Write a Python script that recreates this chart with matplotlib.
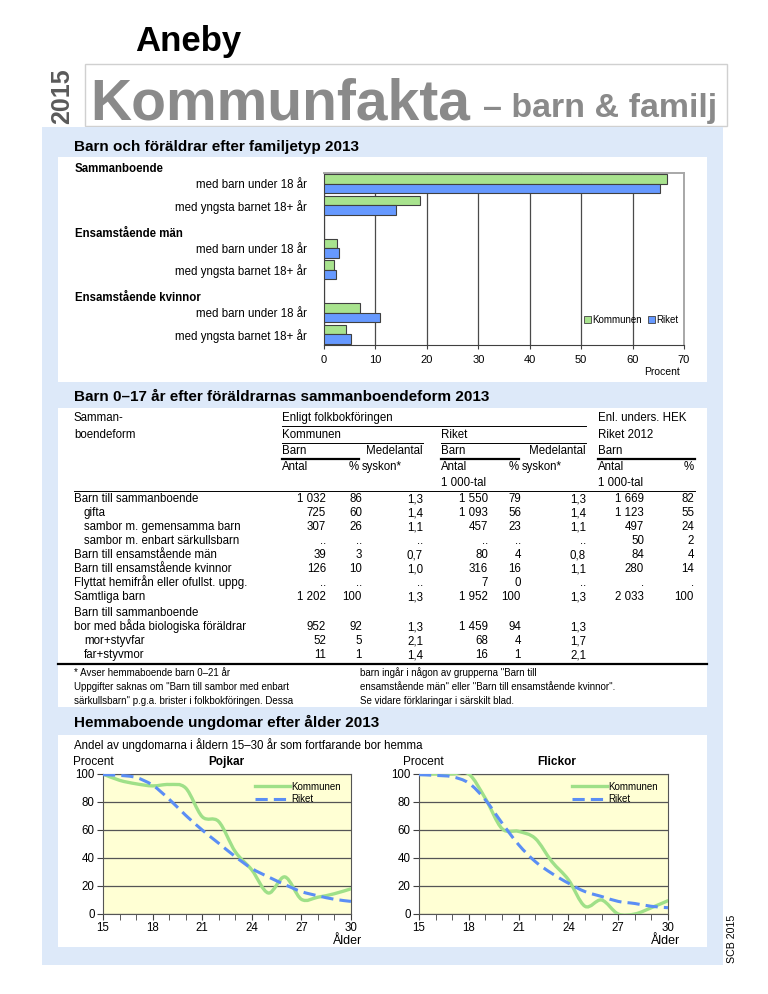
import matplotlib
matplotlib.use("Agg")
import matplotlib.pyplot as plt
from matplotlib.patches import Rectangle, Patch, PathPatch
from matplotlib.path import Path
from matplotlib.lines import Line2D

plt.rcParams['font.family'] = ['Liberation Sans', 'DejaVu Sans']

W, H = 768, 994

# ---- bar chart data ----
bar_groups = ["Sammanboende", "Ensamstående män", "Ensamstående kvinnor"]
bar_labels = ["med barn under 18 år", "med yngsta barnet 18+ år"] * 3
bar_kommunen = [66.7, 18.7, 2.5, 2.0, 7.0, 4.2]
bar_riket = [65.4, 14.0, 3.0, 2.3, 10.9, 5.2]

# ---- table data ----
row_labels = ["Barn till sammanboende", "gifta", "sambor m. gemensamma barn",
              "sambor m. enbart särkullsbarn", "Barn till ensamstående män",
              "Barn till ensamstående kvinnor", "Flyttat hemifrån eller ofullst. uppg.",
              "Samtliga barn"]
row_indent = [0, 1, 1, 1, 0, 0, 0, 0]
kom_antal = ["1 032", "725", "307", "..", "39", "126", "..", "1 202"]
kom_pct = ["86", "60", "26", "..", "3", "10", "..", "100"]
kom_sysk = ["1,3", "1,4", "1,1", "..", "0,7", "1,0", "..", "1,3"]
rik_antal = ["1 550", "1 093", "457", "..", "80", "316", "7", "1 952"]
rik_pct = ["79", "56", "23", "..", "4", "16", "0", "100"]
rik_sysk = ["1,3", "1,4", "1,1", "..", "0,8", "1,1", "..", "1,3"]
hek_antal = ["1 669", "1 123", "497", "50", "84", "280", ".", "2 033"]
hek_pct = ["82", "55", "24", "2", "4", "14", ".", "100"]

bio_labels = ["Barn till sammanboende", "bor med båda biologiska föräldrar",
              "mor+styvfar", "far+styvmor"]
bio_indent = [0, 0, 1, 1]
bio_kom_antal = ["", "952", "52", "11"]
bio_kom_pct = ["", "92", "5", "1"]
bio_kom_sysk = ["", "1,3", "2,1", "1,4"]
bio_rik_antal = ["", "1 459", "68", "16"]
bio_rik_pct = ["", "94", "4", "1"]
bio_rik_sysk = ["", "1,3", "1,7", "2,1"]

notes_left = ["* Avser hemmaboende barn 0–21 år",
              'Uppgifter saknas om "Barn till sambor med enbart',
              'särkullsbarn" p.g.a. brister i folkbokföringen. Dessa']
notes_right = ['barn ingår i någon av grupperna "Barn till',
               'ensamstående män" eller "Barn till ensamstående kvinnor".',
               'Se vidare förklaringar i särskilt blad.']

# ---- line chart data ----
ages = list(range(15, 31))
pojkar_kommunen = [100, 95.5, 93, 91.5, 92.5, 90, 69.5, 66, 44.5, 31.5, 15, 26.5, 10.5, 12, 14.5, 18]
pojkar_riket = [99.5, 99, 97.5, 92, 82, 70.5, 60, 50.5, 41, 32.5, 26.5, 21, 16, 13, 10.5, 9]
flickor_kommunen = [100, 100, 100, 100, 82.5, 61, 59, 54, 37.5, 24.5, 5.5, 10, 0, 0, 4.5, 9.5]
flickor_riket = [99.5, 99, 98, 93.5, 81.5, 65, 49.5, 37.5, 29, 22, 16, 12.5, 9, 7.5, 5.5, 4.5]

GREEN = '#a8e38e'
BLUE = '#6699ff'
LINE_GREEN = '#9fe088'
LINE_BLUE = '#5b8ef5'
PANEL = '#dde9f9'

fig = plt.figure(figsize=(W / 100, H / 100), dpi=100)


def px_axes(x0, y0, x1, y1):
    return fig.add_axes([x0 / W, 1 - y1 / H, (x1 - x0) / W, (y1 - y0) / H])


bg = fig.add_axes([0, 0, 1, 1])
bg.set_xlim(0, W)
bg.set_ylim(H, 0)
bg.axis('off')


def cell(x, y, s, size=8.3, ha='left', **kw):
    # table text placed by row centre, drawn on the baseline
    bg.text(x, y + 3, s, fontsize=size, ha=ha, va='baseline', **kw)


# page header
bg.text(135, 42, "Aneby", fontsize=25, fontweight='bold', va='center', ha='left')
bg.add_patch(Rectangle((85, 64), 642, 62, facecolor='white', edgecolor='#d0d0d0', lw=1))
bg.text(62, 96, "2015", fontsize=18, fontweight='bold', color='#5a5a5a',
        rotation=90, ha='center', va='center')
bg.text(90, 119, "Kommunfakta", fontsize=41, fontweight='bold', color='#8a8a8a',
        ha='left', va='baseline')
bg.text(483, 117, "– barn & familj", fontsize=24.5, fontweight='bold', color='#8a8a8a',
        ha='left', va='baseline')

# panels
bg.add_patch(Rectangle((42, 127), 681, 838, facecolor=PANEL, edgecolor='none'))
for y0, y1 in [(157, 382), (408, 707), (735, 947)]:
    bg.add_patch(Rectangle((58, y0), 649, y1 - y0, facecolor='white', edgecolor='none'))

bg.text(74, 147, "Barn och föräldrar efter familjetyp 2013", fontsize=11,
        fontweight='bold', va='center')
bg.text(74, 397, "Barn 0–17 år efter föräldrarnas sammanboendeform 2013", fontsize=11,
        fontweight='bold', va='center')
bg.text(74, 722, "Hemmaboende ungdomar efter ålder 2013", fontsize=11,
        fontweight='bold', va='center')
bg.text(732, 939, "SCB 2015", fontsize=7.7, rotation=90, ha='center', va='center')

# ---- bar chart ----
ax = px_axes(324, 173, 684, 345)
pos = []
for g in range(3):
    for k in range(2):
        pos.append(g * 3 + k + 0.5)
kpos = [p - 0.22 for p in pos]
rpos = [p + 0.22 for p in pos]
ax.barh(kpos, bar_kommunen, height=0.44, color=GREEN, edgecolor='#404040', lw=0.8,
        label='Kommunen', zorder=3)
ax.barh(rpos, bar_riket, height=0.44, color=BLUE, edgecolor='#404040', lw=0.8,
        label='Riket', zorder=3)
ax.set_xlim(0, 70)
ax.set_ylim(8, 0)
ax.set_xticks(range(0, 71, 10))
ax.set_yticks(pos)
ax.set_yticklabels(bar_labels, fontsize=8.3)
ax.tick_params(axis='y', length=0, pad=12)
ax.tick_params(axis='x', labelsize=8, length=3, color='#404040', pad=4)
ax.grid(axis='x', color='#4a4a4a', lw=0.9, zorder=0)
for s in ['top', 'right']:
    ax.spines[s].set_color('#a8a8a8')
    ax.spines[s].set_linewidth(1.4)
for s in ['left', 'bottom']:
    ax.spines[s].set_color('#404040')
# group headers, left edge at x=75 px on the page
head_x = (75 - 324) / 360
for g, name in enumerate(bar_groups):
    ax.text(head_x, g * 3 - 0.17, name, fontsize=8.3, fontweight='bold', va='center',
            ha='left', transform=ax.get_yaxis_transform(), clip_on=False)
handles = [Patch(facecolor=GREEN, edgecolor='#404040', lw=0.6),
           Patch(facecolor=BLUE, edgecolor='#404040', lw=0.6)]
ax.legend(handles, ['Kommunen', 'Riket'], loc='center right', bbox_to_anchor=(1.0, 0.145),
          ncol=2, fontsize=7, frameon=False, handlelength=0.7, handleheight=0.7,
          handletextpad=0.15, columnspacing=0.6, borderaxespad=0.2)
bg.text(680, 372, "Procent", fontsize=7.5, ha='right', va='center')

# ---- table ----
hdr_y = [418, 435, 451, 467, 483]
cell(74, hdr_y[0], "Samman-")
cell(74, hdr_y[1], "boendeform")
cell(282, hdr_y[0], "Enligt folkbokföringen")
cell(598, hdr_y[0], "Enl. unders. HEK")
cell(282, hdr_y[1], "Kommunen")
cell(441, hdr_y[1], "Riket")
cell(598, hdr_y[1], "Riket 2012")
for left, pct_r, med_r in [(282, 359, 423), (441, 519, 586)]:
    cell(left, hdr_y[2], "Barn")
    cell(med_r, hdr_y[2], "Medelantal", ha='right')
    cell(left, hdr_y[3], "Antal")
    cell(pct_r, hdr_y[3], "%", ha='right')
    cell(pct_r + 3, hdr_y[3], "syskon*")
cell(598, hdr_y[2], "Barn")
cell(598, hdr_y[3], "Antal")
cell(694, hdr_y[3], "%", ha='right')
cell(441, hdr_y[4], "1 000-tal")
cell(598, hdr_y[4], "1 000-tal")

bg.plot([282, 586], [426, 426], color='black', lw=0.7)
bg.plot([282, 423], [443, 443], color='black', lw=0.7)
bg.plot([441, 586], [443, 443], color='black', lw=0.7)
for x0, x1 in [(282, 359), (441, 519), (598, 695)]:
    bg.plot([x0, x1], [459, 459], color='black', lw=1.6)
bg.plot([74, 695], [491, 491], color='black', lw=0.7)
bg.plot([58, 707], [664, 664], color='black', lw=1.6)

col_right = [326, 362, 423, 488, 521, 586, 644, 694]
cols = [kom_antal, kom_pct, kom_sysk, rik_antal, rik_pct, rik_sysk, hek_antal, hek_pct]
for i, lab in enumerate(row_labels):
    y = 499 + 14 * i
    cell(74 + 10 * row_indent[i], y, lab)
    for xr, col in zip(col_right, cols):
        cell(xr, y, col[i], ha='right')

bio_cols = [bio_kom_antal, bio_kom_pct, bio_kom_sysk, bio_rik_antal, bio_rik_pct, bio_rik_sysk]
for i, lab in enumerate(bio_labels):
    y = 613 + 14 * i
    cell(74 + 10 * bio_indent[i], y, lab)
    for xr, col in zip(col_right, bio_cols):
        cell(xr, y, col[i], ha='right')

for i, (a, b) in enumerate(zip(notes_left, notes_right)):
    y = 673 + 14 * i
    cell(74, y, a, size=7)
    cell(360, y, b, size=7)

# ---- line charts ----
bg.text(74, 745, "Andel av ungdomarna i åldern 15–30 år som fortfarande bor hemma",
        fontsize=8.3, va='center')


def smooth_path(xs, ys):
    # Excel-style smoothed line: cubic Bezier segments through the data points
    pts = list(zip(xs, ys))
    n = len(pts)
    verts = [pts[0]]
    codes = [Path.MOVETO]
    for i in range(n - 1):
        p0 = pts[i - 1] if i > 0 else pts[i]
        p1 = pts[i]
        p2 = pts[i + 1]
        p3 = pts[i + 2] if i + 2 < n else pts[i + 1]
        c1 = (p1[0] + (p2[0] - p0[0]) / 6, p1[1] + (p2[1] - p0[1]) / 6)
        c2 = (p2[0] - (p3[0] - p1[0]) / 6, p2[1] - (p3[1] - p1[1]) / 6)
        verts += [c1, c2, p2]
        codes += [Path.CURVE4] * 3
    return Path(verts, codes)


def line_chart(box, title, kom, rik, title_x, procent_x, alder_x):
    a = px_axes(*box)
    a.set_facecolor('#ffffd4')
    a.set_xlim(15, 30)
    a.set_ylim(0, 100)
    a.set_xticks(range(15, 31, 3))
    a.set_xticks(ages, minor=True)
    a.set_yticks(range(0, 101, 20))
    a.tick_params(axis='both', which='both', direction='out', length=4,
                  color='#404040', labelsize=8.3, pad=2)
    a.tick_params(axis='x', pad=1.5)
    a.grid(axis='y', color='#555555', lw=0.9)
    a.set_axisbelow(True)
    for s in a.spines.values():
        s.set_color('#555555')
    a.add_patch(PathPatch(smooth_path(ages, kom), fill=False, edgecolor=LINE_GREEN,
                          lw=2.4, capstyle='round', zorder=3))
    a.add_patch(PathPatch(smooth_path(ages, rik), fill=False, edgecolor=LINE_BLUE,
                          lw=2.2, linestyle=(0, (4, 2)), zorder=4))
    h = [Line2D([], [], color=LINE_GREEN, lw=2.4),
         Line2D([], [], color=LINE_BLUE, lw=2.2, linestyle=(0, (4, 2)))]
    a.legend(h, ['Kommunen', 'Riket'], loc='upper right', bbox_to_anchor=(0.99, 1.0),
             fontsize=7, frameon=False, handlelength=3.6, handletextpad=0.1,
             labelspacing=0.25, borderpad=0.3)
    bg.text(procent_x, 762, "Procent", fontsize=8.5, va='center')
    bg.text(title_x, 762, title, fontsize=8.5, fontweight='bold', va='center', ha='center')
    bg.text(alder_x, 941, "Ålder", fontsize=9, va='center', ha='right')


line_chart((103, 774, 351, 914), "Pojkar", pojkar_kommunen, pojkar_riket, 226, 73, 362)
line_chart((419, 774, 668, 914), "Flickor", flickor_kommunen, flickor_riket, 557, 403, 680)

fig.savefig("out.png", dpi=100)
